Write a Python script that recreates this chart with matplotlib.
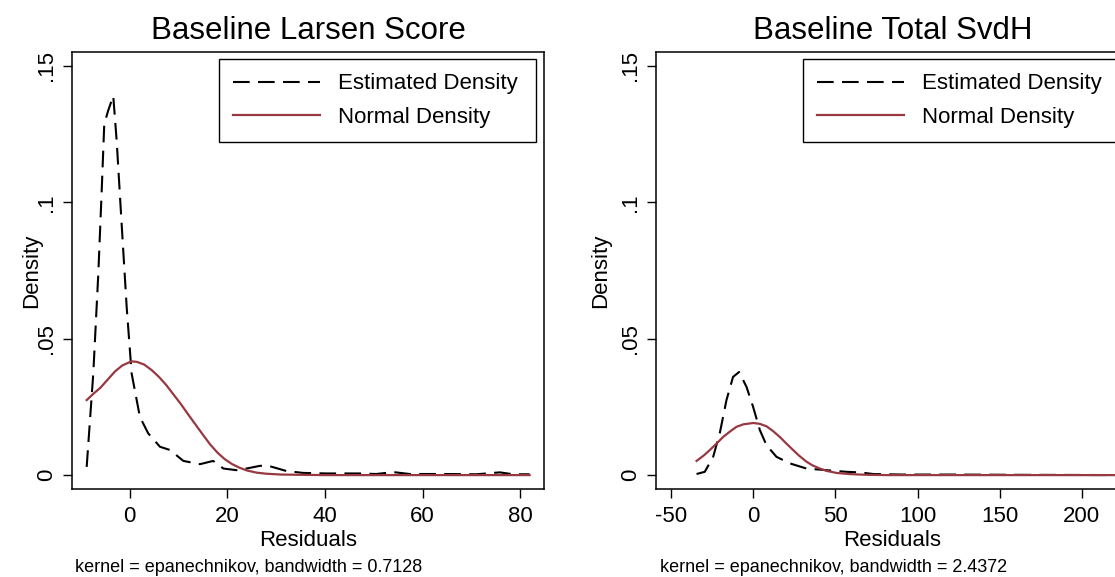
import matplotlib
matplotlib.use("Agg")
import matplotlib.pyplot as plt

plt.rcParams['font.family'] = ['Liberation Sans', 'DejaVu Sans']
plt.rcParams['lines.scale_dashes'] = False
plt.rcParams['axes.unicode_minus'] = False

# Baseline Larsen Score: kernel density of residuals
larsen_kde_x = [-8.8, -7.45, -6.42, -5.73, -5.2, -4.4, -3.36, -2.66, -1.64, -0.61,
                0.41, 2.1, 3.8, 6.2, 8.25, 11.0, 14.4, 17.1, 19.2, 21.9,
                23.9, 26.7, 28.4, 32.1, 35.5, 40.3, 47.1, 50.5, 54.0, 57.3,
                64.2, 71.0, 75.8, 78.5, 81.9]
larsen_kde_y = [0.003, 0.0372, 0.0738, 0.104, 0.1287, 0.1336, 0.139, 0.1226, 0.092, 0.0616,
                0.0372, 0.0213, 0.0153, 0.0104, 0.0092, 0.0052, 0.0040, 0.0052, 0.0024, 0.0018,
                0.0024, 0.0034, 0.0034, 0.0015, 0.0008, 0.0006, 0.0006, 0.0004, 0.0011, 0.0004,
                0.0004, 0.0003, 0.0010, 0.0003, 0.0003]
larsen_norm_x = [-8.8, -7.5, -6.0, -4.5, -3.0, -1.5, 0.0, 0.4, 1.5, 3.0,
                 4.5, 6.0, 7.5, 9.0, 10.5, 12.0, 13.5, 15.0, 16.5, 18.0,
                 19.5, 21.0, 22.5, 24.0, 26.0, 28.0, 31.0, 35.0, 40.0, 81.9]
larsen_norm_y = [0.0275, 0.0297, 0.0320, 0.0350, 0.0380, 0.0402, 0.0414, 0.0417, 0.0415, 0.0405,
                 0.0385, 0.0360, 0.0330, 0.0295, 0.0260, 0.0222, 0.0185, 0.0148, 0.0112, 0.0082,
                 0.0058, 0.0040, 0.0027, 0.0017, 0.0009, 0.0005, 0.0002, 0.0001, 0.0, 0.0]

# Baseline Total SvdH
svdh_kde_x = [-34.4, -29.4, -24.3, -20.3, -16.2, -12.2, -8.5, -4.0, 0.0, 4.1,
              8.1, 14.2, 22.3, 32.5, 44.6, 56.8, 64.9, 73.0, 91.2, 121.6,
              162.0, 225.0]
svdh_kde_y = [0.0004, 0.0012, 0.0067, 0.0153, 0.0275, 0.036, 0.0378, 0.0323, 0.025, 0.0165,
              0.011, 0.0067, 0.0043, 0.0024, 0.0018, 0.0012, 0.001, 0.0004, 0.0002, 0.0002,
              0.0001, 0.0]
svdh_norm_x = [-34.4, -30.0, -26.3, -22.0, -18.2, -14.0, -10.1, -6.0, 0.0, 4.0,
               8.1, 12.0, 16.2, 20.0, 24.3, 28.0, 32.5, 36.0, 40.6, 45.0,
               50.7, 58.0, 64.9, 70.0, 81.0, 225.0]
svdh_norm_y = [0.0052, 0.0072, 0.0092, 0.0117, 0.0140, 0.0160, 0.0177, 0.0186, 0.0191, 0.0188,
               0.0179, 0.0162, 0.0140, 0.0117, 0.0092, 0.0071, 0.0049, 0.0036, 0.0024, 0.0015,
               0.0008, 0.0004, 0.0002, 0.0001, 0.0, 0.0]

yticks = [0, 0.05, 0.1, 0.15]
ytick_labels = ['0', '.05', '.1', '.15']
larsen_xticks = [0, 20, 40, 60, 80]
svdh_xticks = [-50, 0, 50, 100, 150, 200]

red = '#983841'

fig = plt.figure(figsize=(11.15, 5.77), dpi=100)
ax1 = fig.add_axes([0.0646, 0.1525, 0.4233, 0.7574])
ax2 = fig.add_axes([0.588, 0.1525, 0.4251, 0.7574])

panels = [
    (ax1, 'Baseline Larsen Score', larsen_kde_x, larsen_kde_y, larsen_norm_x, larsen_norm_y,
     larsen_xticks, (-11.8, 84.85), -0.064, 'kernel = epanechnikov, bandwidth = 0.7128', 75),
    (ax2, 'Baseline Total SvdH', svdh_kde_x, svdh_kde_y, svdh_norm_x, svdh_norm_y,
     svdh_xticks, (-59.3, 229), -0.093, 'kernel = epanechnikov, bandwidth = 2.4372', 660),
]

for ax, title, kx, ky, nx, ny, xt, xlim, ylab_x, note, note_px in panels:
    ax.plot(kx, ky, color='black', lw=1.5, dashes=(12, 6), label='Estimated Density')
    ax.plot(nx, ny, color=red, lw=1.6, label='Normal Density')
    ax.set_xlim(*xlim)
    ax.set_ylim(-0.0051, 0.1551)
    ax.set_xticks(xt)
    ax.set_yticks(yticks)
    ax.set_yticklabels(ytick_labels, rotation=90, va='center')
    ax.tick_params(direction='out', length=6.5, width=1, labelsize=16, pad=4)
    ax.tick_params(axis='x', pad=6)
    for s in ax.spines.values():
        s.set_linewidth(1.1)
    ax.set_title(title, fontsize=22.5, pad=9)
    ax.set_xlabel('Residuals', fontsize=16, labelpad=2)
    ax.set_ylabel('Density', fontsize=16)
    ax.yaxis.set_label_coords(ylab_x, 0.5)
    leg = ax.legend(loc='upper left', bbox_to_anchor=(0.311, 0.805, 0.672, 0.179),
                    mode='expand', fontsize=16, handlelength=3.9, handletextpad=0.8,
                    borderpad=0.65, labelspacing=0.55, borderaxespad=0,
                    fancybox=False, edgecolor='black', framealpha=1)
    leg.get_frame().set_linewidth(1)
    fig.text(note_px / 1115, 1 - 572 / 577, note, fontsize=13, ha='left', va='baseline')

fig.savefig('out.png', dpi=100)
